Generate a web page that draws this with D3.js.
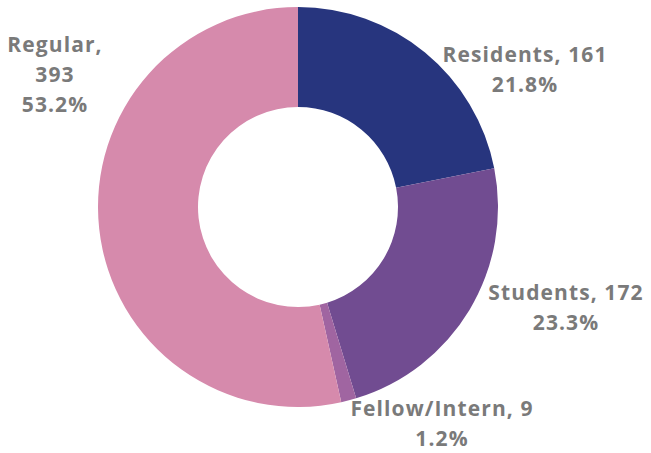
<!DOCTYPE html>
<html>
<head>
<meta charset="utf-8">
<script src="https://cdn.jsdelivr.net/npm/d3@7"></script>
<style>
  body { margin: 0; background: #fff; }
  svg text { font-family: "Open Sans", Lato, sans-serif; font-weight: 700; fill: #7a7a7a; letter-spacing: 1.1px; }
</style>
</head>
<body>
<div id="chart"></div>
<script>
// --- Data ---
const categories = ["Residents", "Students", "Fellow/Intern", "Regular"];
const counts = [161, 172, 9, 393];
const percents = ["21.8%", "23.3%", "1.2%", "53.2%"];
const colors = ["#27357e", "#714c91", "#a065a1", "#d68aac"];

// label lines per slice (text only)
const labelLines = [
  ["Residents, 161", "21.8%"],
  ["Students, 172", "23.3%"],
  ["Fellow/Intern, 9", "1.2%"],
  ["Regular,", "393", "53.2%"],
];

// --- Layout ---
const W = 651, H = 453;
const cx = 298, cy = 207;
const outerR = 200, innerR = 100;
// label anchor offsets from the donut centre (layout only)
const labelOffsets = [
  { dx: 227, dy: -145 },
  { dx: 268, dy: 93 },
  { dx: 144, dy: 209 },
  { dx: -243, dy: -155 },
];
const lineHeight = 30;

const svg = d3.select("#chart").append("svg")
  .attr("width", W).attr("height", H);

const g = svg.append("g").attr("transform", `translate(${cx}, ${cy})`);

const data = categories.map((c, i) => ({ name: c, value: counts[i], i }));

const pie = d3.pie().value((d) => d.value).sort(null);
const arc = d3.arc().innerRadius(innerR).outerRadius(outerR);

g.selectAll("path.slice")
  .data(pie(data))
  .join("path")
  .attr("class", "slice")
  .attr("d", arc)
  .attr("fill", (d) => colors[d.data.i]);

// --- Labels ---
const labels = g.selectAll("text.label")
  .data(data)
  .join("text")
  .attr("class", "label")
  .attr("text-anchor", "middle")
  .attr("font-size", "21px")
  .attr("transform", (d) => `translate(${labelOffsets[d.i].dx}, ${labelOffsets[d.i].dy})`);

labels.selectAll("tspan")
  .data((d) => labelLines[d.i])
  .join("tspan")
  .attr("x", 0)
  .attr("y", (d, j) => j * lineHeight)
  .text((d) => d);
</script>
</body>
</html>
